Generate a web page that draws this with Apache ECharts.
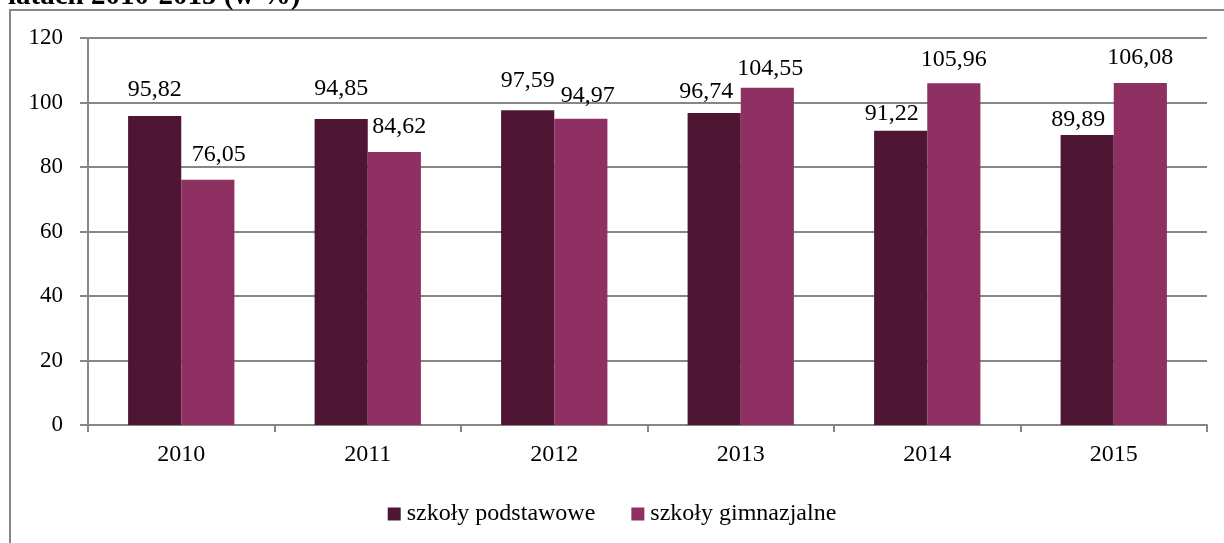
<!DOCTYPE html>
<html>
<head>
<meta charset="utf-8">
<script src="https://cdn.jsdelivr.net/npm/echarts@6/dist/echarts.min.js"></script>
<style>
  html, body { margin: 0; padding: 0; background: #fff; }
  #main { width: 1224px; height: 543px; }
</style>
</head>
<body>
<div id="main"></div>
<script>
  // dane z wykresu
  var lata = ['2010', '2011', '2012', '2013', '2014', '2015'];
  var podstawowe = [95.82, 94.85, 97.59, 96.74, 91.22, 89.89];
  var gimnazjalne = [76.05, 84.62, 94.97, 104.55, 105.96, 106.08];
  var nazwy = ['szkoły podstawowe', 'szkoły gimnazjalne'];

  var serif = '"Liberation Serif", "DejaVu Serif", serif';
  var szary = '#868686';

  // etykiety w Excelu byly recznie przesuwane
  var przesPodst = [[0, -2], [0, -6], [0, -6], [-8, 3], [-9, 7], [-9, 9]];
  var przesGimn = [[11, -1], [5, -1], [7, 1], [3, 5], [0, 0], [0, -1]];

  function etykieta(p) {
    return p.value.toFixed(2).replace('.', ',');
  }

  function punkty(wartosci, przes) {
    return wartosci.map(function (v, i) {
      return { value: v, label: { offset: przes[i] } };
    });
  }

  var etykietaStyl = {
    show: true, position: 'top', distance: 12,
    formatter: etykieta,
    fontFamily: serif, fontSize: 24, color: '#000'
  };

  var chart = echarts.init(document.getElementById('main'));
  chart.setOption({
    animation: false,
    textStyle: { fontFamily: serif },
    graphic: [
      {
        type: 'rect',
        shape: { x: 10, y: 10, width: 1230, height: 560 },
        style: { fill: 'none', stroke: szary, lineWidth: 2 },
        silent: true
      },
      {
        type: 'text',
        x: 8, y: 11,
        style: {
          text: 'latach 2010-2015 (w %)',
          font: 'bold 29px ' + serif,
          fill: '#000',
          verticalAlign: 'bottom'
        }
      }
    ],
    legend: {
      top: 497,
      left: 'center',
      itemWidth: 13,
      itemHeight: 13,
      itemGap: 36,
      icon: 'rect',
      textStyle: { fontFamily: serif, fontSize: 24, color: '#000', padding: [0, 0, 0, 1] },
      data: nazwy
    },
    grid: { left: 88, right: 17, top: 38, bottom: 118 },
    xAxis: {
      type: 'category',
      data: lata,
      axisLine: { lineStyle: { color: szary, width: 2 } },
      axisTick: { show: true, length: 7, lineStyle: { color: szary, width: 2 } },
      axisLabel: { fontFamily: serif, fontSize: 24, color: '#000', margin: 18 }
    },
    yAxis: {
      type: 'value',
      min: 0, max: 120, interval: 20,
      axisLine: { show: true, lineStyle: { color: szary, width: 2 } },
      axisTick: { show: true, length: 8, lineStyle: { color: szary, width: 2 } },
      splitLine: { show: true, lineStyle: { color: szary, width: 2 } },
      axisLabel: { fontFamily: serif, fontSize: 23, color: '#000', margin: 25 }
    },
    series: [
      {
        name: nazwy[0],
        type: 'bar',
        data: punkty(podstawowe, przesPodst),
        barGap: 0,
        barCategoryGap: '43%',
        itemStyle: { color: '#4F1634' },
        label: etykietaStyl
      },
      {
        name: nazwy[1],
        type: 'bar',
        data: punkty(gimnazjalne, przesGimn),
        itemStyle: { color: '#8E3162' },
        label: etykietaStyl
      }
    ]
  });
</script>
</body>
</html>
